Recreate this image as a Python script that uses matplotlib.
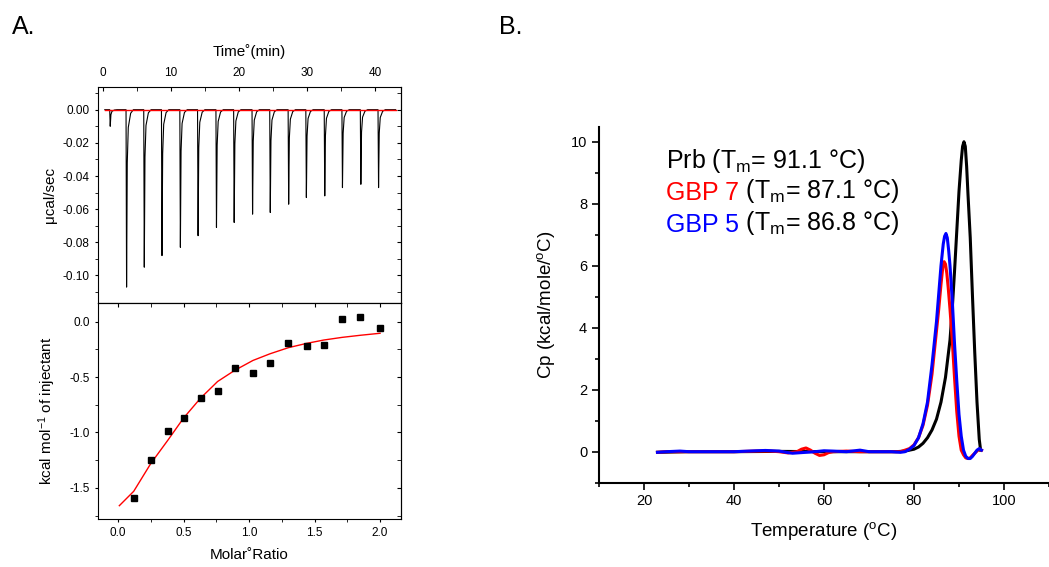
"""
ITC titration (A) and DSC thermograms (B).
"""
import numpy as np
import matplotlib.pyplot as plt
from matplotlib.ticker import MultipleLocator

plt.rcParams['font.family'] = ['Liberation Sans', 'DejaVu Sans']
plt.rcParams['mathtext.fontset'] = 'custom'
plt.rcParams['mathtext.rm'] = 'Liberation Sans'
plt.rcParams['mathtext.it'] = 'Liberation Sans:italic'
plt.rcParams['axes.unicode_minus'] = False

# --- A, top: raw ITC heat pulses (injection time, peak depth) ---
inj_time = [1.1, 3.5, 6.1, 8.7, 11.4, 14.0, 16.7, 19.3, 22.0, 24.6, 27.3,
            29.9, 32.6, 35.2, 37.9, 40.5]
inj_peak = [-0.010, -0.107, -0.095, -0.088, -0.083, -0.076, -0.071, -0.068,
            -0.063, -0.062, -0.057, -0.053, -0.052, -0.047, -0.045, -0.047]

# --- A, bottom: integrated heats and fit ---
molar_ratio = [0.12, 0.25, 0.38, 0.50, 0.63, 0.76, 0.89, 1.03, 1.16, 1.30,
               1.44, 1.57, 1.71, 1.85, 2.00]
heat = [-1.59, -1.25, -0.99, -0.87, -0.69, -0.63, -0.42, -0.46, -0.37,
        -0.19, -0.22, -0.21, 0.02, 0.04, -0.06]
fit_ratio = [0.01, 0.12, 0.25, 0.38, 0.50, 0.63, 0.76, 0.89, 1.03, 1.16,
             1.30, 1.44, 1.57, 1.71, 1.85, 2.00]
fit_heat = [-1.66, -1.53, -1.28, -1.07, -0.87, -0.69, -0.54, -0.44, -0.35,
            -0.29, -0.235, -0.196, -0.166, -0.142, -0.123, -0.105]

# --- B: DSC curves ---
prb_T = [23, 30, 40, 50, 60, 70, 76, 78, 80, 81, 82, 83, 84, 85, 86, 87, 88,
         88.5, 89, 89.5, 90, 90.5, 90.8, 91.1, 91.4, 91.7, 92, 92.5, 93,
         93.5, 94, 94.5, 94.8]
prb_cp = [-0.02, 0, 0, 0.01, 0, 0, 0, 0.02, 0.08, 0.15, 0.27, 0.45, 0.7,
          1.05, 1.6, 2.4, 3.6, 4.6, 5.8, 7.1, 8.4, 9.4, 9.85, 10.0, 9.85,
          9.2, 8.3, 6.9, 5.0, 3.2, 1.6, 0.4, 0.05]

gbp7_T = [23, 25, 30, 35, 40, 45, 48, 50, 52, 54, 55, 56, 57, 58, 59, 60, 61,
          62, 65, 68, 70, 75, 77, 78, 79, 80, 81, 82, 83, 84, 85, 85.5, 86,
          86.4, 86.7, 87.0, 87.3, 87.6, 88, 88.5, 89, 89.5, 90, 90.5, 91,
          91.5, 92, 92.5, 93, 93.5, 94, 94.5, 95]
gbp7_cp = [-0.02, 0.0, 0.0, 0.0, 0.0, 0.02, 0.02, 0.0, -0.04, 0.0, 0.08,
           0.12, 0.05, -0.05, -0.12, -0.1, -0.03, 0.0, 0.02, 0.0, 0.0, 0.0,
           0.0, 0.05, 0.1, 0.22, 0.45, 0.85, 1.5, 2.5, 3.9, 4.6, 5.4, 5.95,
           6.13, 6.05, 5.75, 5.3, 4.6, 3.6, 2.4, 1.3, 0.5, 0.05, -0.1, -0.2,
           -0.22, -0.2, -0.12, -0.05, 0.02, 0.08, 0.05]

gbp5_T = [23, 25, 28, 30, 35, 40, 45, 47, 50, 52, 53, 55, 58, 60, 62, 65, 68,
          70, 75, 77, 78, 79, 80, 81, 82, 83, 84, 85, 85.5, 86, 86.5, 86.8,
          87.1, 87.4, 87.7, 88, 88.5, 89, 89.5, 90, 90.5, 91, 91.5, 92, 92.5,
          93, 93.5, 94, 94.5, 95]
gbp5_cp = [-0.02, 0.0, 0.02, 0.0, 0.0, 0.0, 0.03, 0.04, 0.02, -0.03, -0.05,
           -0.03, 0.0, 0.03, 0.02, 0.0, 0.05, 0.0, 0.0, -0.02, 0.0, 0.08,
           0.2, 0.45, 0.9, 1.6, 2.8, 4.2, 5.1, 6.0, 6.7, 6.95, 7.04, 6.9,
           6.5, 6.0, 4.9, 3.5, 2.3, 1.2, 0.5, 0.05, -0.15, -0.22, -0.22,
           -0.15, -0.05, 0.05, 0.1, 0.05]

# build the raw trace: flat baseline with a sharp dip at every injection
t_trace, y_trace = [0.3], [0.0]
for t, p in zip(inj_time, inj_peak):
    t_trace += [t - 0.08, t, t + 0.1, t + 0.25, t + 0.6, t + 1.0]
    y_trace += [0.0, p, p * 0.3, p * 0.1, p * 0.02, 0.0]
t_trace.append(43.0)
y_trace.append(0.0)

fig = plt.figure(figsize=(10.49, 5.67), dpi=100)

# ---------------- A, top ----------------
ax1 = fig.add_axes([0.0934, 0.4656, 0.2889, 0.3810])
ax1.plot(t_trace, y_trace, color='black', lw=0.8)
ax1.plot([0.3, 43.0], [0, 0], color='red', lw=1.0)
ax1.set_xlim(-0.7, 43.8)
ax1.set_ylim(-0.1166, 0.0137)
ax1.xaxis.set_major_locator(MultipleLocator(10))
ax1.xaxis.set_minor_locator(MultipleLocator(5))
ax1.yaxis.set_major_locator(MultipleLocator(0.02))
ax1.yaxis.set_minor_locator(MultipleLocator(0.01))
ax1.yaxis.set_major_formatter(lambda v, pos: f"{v:.2f}".replace("-0.00", "0.00"))
ax1.tick_params(axis='x', which='both', top=True, bottom=False, labeltop=True,
                labelbottom=False, direction='in', length=3, labelsize=8.5,
                pad=6)
ax1.tick_params(axis='y', which='both', direction='out', length=2.5,
                labelsize=8.5)
ax1.xaxis.set_label_position('top')
ax1.set_xlabel('Time\u02da(min)', fontsize=11, labelpad=8)
ax1.set_ylabel('\u03bccal/sec', fontsize=11, labelpad=4)
r1 = ax1.secondary_yaxis('right')
r1.yaxis.set_major_locator(MultipleLocator(0.02))
r1.yaxis.set_minor_locator(MultipleLocator(0.01))
r1.tick_params(which='both', direction='in', length=3, labelright=False)

# ---------------- A, bottom ----------------
ax2 = fig.add_axes([0.0934, 0.0847, 0.2889, 0.3809])
ax2.plot(fit_ratio, fit_heat, color='red', lw=1.0)
ax2.plot(molar_ratio, heat, 's', color='black', ms=5)
ax2.set_xlim(-0.153, 2.16)
ax2.set_ylim(-1.78, 0.168)
ax2.xaxis.set_major_locator(MultipleLocator(0.5))
ax2.xaxis.set_minor_locator(MultipleLocator(0.25))
ax2.yaxis.set_major_locator(MultipleLocator(0.5))
ax2.yaxis.set_minor_locator(MultipleLocator(0.25))
ax2.tick_params(which='both', direction='out', length=2.5, labelsize=8.5)
ax2.set_xlabel('Molar\u02daRatio', fontsize=11, labelpad=6)
ax2.set_ylabel('kcal mol$^\\mathrm{-1}$ of injectant', fontsize=11, labelpad=8)
t2 = ax2.secondary_xaxis('top')
t2.xaxis.set_major_locator(MultipleLocator(0.5))
t2.xaxis.set_minor_locator(MultipleLocator(0.25))
t2.tick_params(which='both', direction='in', length=3, labeltop=False)
r2 = ax2.secondary_yaxis('right')
r2.yaxis.set_major_locator(MultipleLocator(0.5))
r2.yaxis.set_minor_locator(MultipleLocator(0.25))
r2.tick_params(which='both', direction='in', length=3, labelright=False)

for ax in (ax1, ax2):
    for s in ax.spines.values():
        s.set_linewidth(0.8)

# ---------------- B ----------------
ax3 = fig.add_axes([0.571, 0.1487, 0.429, 0.627])
ax3.plot(prb_T, prb_cp, color='black', lw=2.2)
ax3.plot(gbp7_T, gbp7_cp, color='red', lw=2.2)
ax3.plot(gbp5_T, gbp5_cp, color='blue', lw=2.2)
ax3.set_xlim(10, 110)
ax3.set_ylim(-1.0, 10.47)
ax3.spines['top'].set_visible(False)
ax3.spines['right'].set_visible(False)
for s in ('left', 'bottom'):
    ax3.spines[s].set_linewidth(1.5)
ax3.xaxis.set_major_locator(MultipleLocator(20))
ax3.xaxis.set_minor_locator(MultipleLocator(10))
ax3.yaxis.set_major_locator(MultipleLocator(2))
ax3.yaxis.set_minor_locator(MultipleLocator(1))
ax3.tick_params(which='major', direction='out', length=5, width=1.2,
                labelsize=10.5)
ax3.tick_params(which='minor', direction='out', length=3, width=1.2)
ax3.set_xlabel('Temperature ($^\\mathrm{o}$C)', fontsize=13.5, labelpad=8)
ax3.set_ylabel('Cp (kcal/mole/$^\\mathrm{o}$C)', fontsize=13.5, labelpad=10)

fs = 18
y0 = 0.905
l1 = ax3.text(0.15, y0, 'Prb (T$_\\mathrm{m}$= 91.1 \u00b0C)', transform=ax3.transAxes,
              fontsize=fs, color='black', va='center')
l2 = ax3.text(0.15, y0 - 0.09, 'GBP 7', transform=ax3.transAxes,
              fontsize=fs, color='red', va='center')
ax3.annotate(' (T$_\\mathrm{m}$= 87.1 \u00b0C)', xy=(1, 0), xycoords=l2,
             va='bottom', fontsize=fs, color='black')
l3 = ax3.text(0.15, y0 - 0.18, 'GBP 5', transform=ax3.transAxes,
              fontsize=fs, color='blue', va='center')
ax3.annotate(' (T$_\\mathrm{m}$= 86.8 \u00b0C)', xy=(1, 0), xycoords=l3,
             va='bottom', fontsize=fs, color='black')

fig.text(0.011, 0.94, 'A.', fontsize=18)
fig.text(0.476, 0.94, 'B.', fontsize=18)

fig.savefig('out.png', dpi=100)
